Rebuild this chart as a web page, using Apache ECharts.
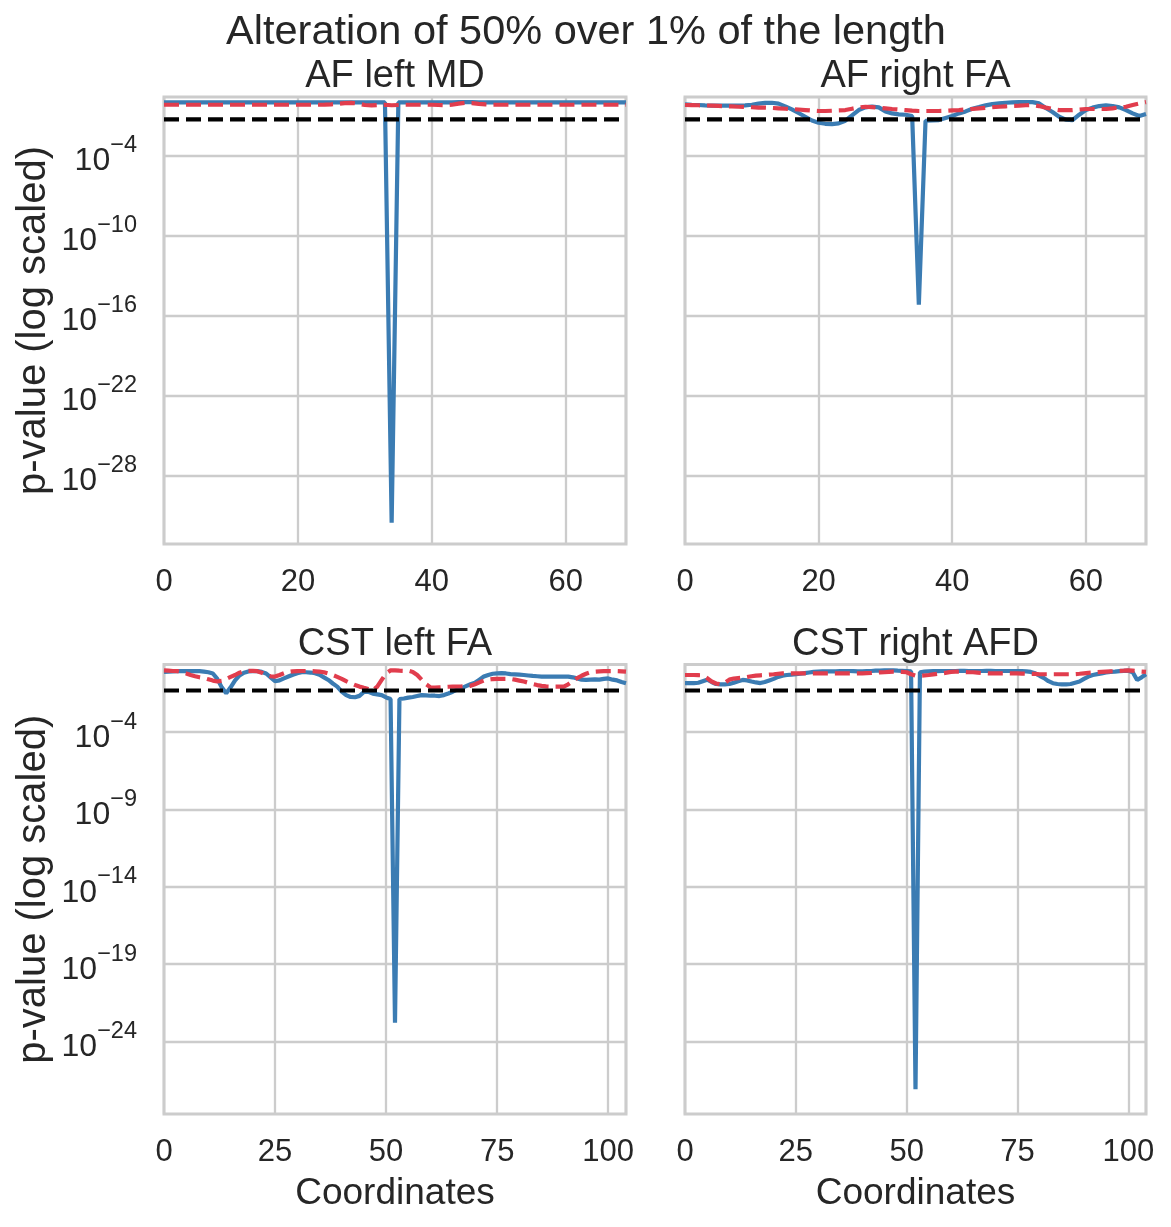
<!DOCTYPE html>
<html>
<head>
<meta charset="utf-8">
<script src="https://cdn.jsdelivr.net/npm/echarts@6/dist/echarts.min.js"></script>
<style>
  html, body { margin: 0; background: #fff; }
  #chart { width: 1171px; height: 1227px; }
</style>
</head>
<body>
<div id="chart"></div>
<script>
// values are log10(p-value)
const pThreshold = 0.05;

const topYTicks = [-4, -10, -16, -22, -28];
const bottomYTicks = [-4, -9, -14, -19, -24];

// AF left MD (70 coordinates)
const afLeftMdAltered = [
  -0.02, -0.02, -0.02, -0.02, -0.02, -0.02, -0.02, -0.02, -0.02, -0.02,
  -0.02, -0.02, -0.02, -0.02, -0.02, -0.02, -0.02, -0.02, -0.02, -0.02,
  -0.02, -0.02, -0.02, -0.02, -0.02, -0.02, -0.02, -0.02, -0.02, -0.02,
  -0.02, -0.03, -0.03, -0.03, -31.55, -0.03, -0.03, -0.03, -0.03, -0.03,
  -0.02, -0.02, -0.02, -0.02, -0.01, -0.01, -0.01, -0.02, -0.02, -0.02,
  -0.02, -0.02, -0.02, -0.02, -0.02, -0.02, -0.02, -0.02, -0.02, -0.02,
  -0.02, -0.02, -0.02, -0.02, -0.02, -0.02, -0.02, -0.02, -0.02, -0.02
];
const afLeftMdControl = [
  -0.2, -0.2, -0.2, -0.2, -0.2, -0.2, -0.2, -0.2, -0.2, -0.2,
  -0.2, -0.2, -0.2, -0.2, -0.2, -0.2, -0.2, -0.2, -0.2, -0.2,
  -0.2, -0.2, -0.2, -0.2, -0.19, -0.17, -0.13, -0.08, -0.06, -0.12,
  -0.22, -0.25, -0.22, -0.2, -0.24, -0.22, -0.2, -0.2, -0.2, -0.2,
  -0.2, -0.22, -0.24, -0.2, -0.12, -0.06, -0.08, -0.14, -0.18, -0.2,
  -0.2, -0.2, -0.2, -0.2, -0.2, -0.2, -0.2, -0.2, -0.2, -0.2,
  -0.2, -0.2, -0.2, -0.2, -0.2, -0.2, -0.2, -0.2, -0.2, -0.2
];

// AF right FA (70 coordinates)
const afRightFaAltered = [
  -0.17, -0.2, -0.22, -0.25, -0.27, -0.27, -0.27, -0.27, -0.27, -0.25,
  -0.2, -0.12, -0.06, -0.05, -0.12, -0.32, -0.55, -0.82, -1.1, -1.38,
  -1.55, -1.63, -1.65, -1.6, -1.4, -1.0, -0.6, -0.4, -0.33, -0.4,
  -0.7, -0.85, -0.92, -0.95, -1.05, -15.2, -1.4, -1.38, -1.35, -1.2,
  -1.05, -0.85, -0.7, -0.5, -0.38, -0.25, -0.15, -0.1, -0.05, -0.02,
  -0.01, 0, 0, -0.1, -0.45, -0.75, -1.1, -1.32, -1.35, -0.95,
  -0.6, -0.42, -0.3, -0.25, -0.3, -0.4, -0.6, -0.85, -1.05, -0.9
];
const afRightFaControl = [
  -0.22, -0.23, -0.24, -0.25, -0.27, -0.29, -0.31, -0.33, -0.35, -0.37,
  -0.39, -0.41, -0.42, -0.44, -0.47, -0.5, -0.52, -0.56, -0.6, -0.64,
  -0.67, -0.67, -0.65, -0.62, -0.6, -0.5, -0.4, -0.35, -0.38, -0.43,
  -0.47, -0.52, -0.56, -0.6, -0.64, -0.67, -0.67, -0.67, -0.67, -0.66,
  -0.63, -0.6, -0.56, -0.52, -0.47, -0.43, -0.39, -0.35, -0.32, -0.29,
  -0.27, -0.24, -0.22, -0.3, -0.42, -0.52, -0.6, -0.6, -0.6, -0.56,
  -0.52, -0.52, -0.52, -0.52, -0.47, -0.4, -0.35, -0.22, -0.1, 0
];

// CST left FA (105 coordinates)
const cstLeftFaAltered = [
  -0.1, -0.08, -0.06, -0.05, -0.05, -0.05, -0.05, -0.05, -0.05, -0.08,
  -0.12, -0.2, -0.55, -1.1, -1.48, -1.1, -0.65, -0.32, -0.15, -0.07,
  -0.05, -0.05, -0.1, -0.2, -0.45, -0.7, -0.65, -0.52, -0.4, -0.28,
  -0.18, -0.12, -0.12, -0.14, -0.18, -0.28, -0.45, -0.62, -0.85, -1.05,
  -1.38, -1.6, -1.72, -1.74, -1.65, -1.4, -1.38, -1.5, -1.55, -1.6,
  -1.75, -1.85, -22.8, -1.85, -1.82, -1.76, -1.72, -1.66, -1.6, -1.62,
  -1.64, -1.64, -1.66, -1.6, -1.5, -1.38, -1.25, -1.15, -1.02, -0.9,
  -0.8, -0.6, -0.4, -0.3, -0.22, -0.19, -0.18, -0.2, -0.24, -0.26,
  -0.28, -0.3, -0.33, -0.36, -0.38, -0.4, -0.4, -0.4, -0.4, -0.4,
  -0.4, -0.4, -0.45, -0.52, -0.6, -0.62, -0.6, -0.58, -0.6, -0.55,
  -0.52, -0.6, -0.65, -0.75, -0.83
];
const cstLeftFaControl = [
  0, -0.02, -0.04, -0.05, -0.12, -0.2, -0.3, -0.38, -0.45, -0.5,
  -0.58, -0.66, -0.72, -0.68, -0.55, -0.42, -0.3, -0.15, -0.05, -0.03,
  -0.03, -0.05, -0.15, -0.3, -0.38, -0.4, -0.3, -0.19, -0.1, -0.06,
  -0.05, -0.04, -0.04, -0.05, -0.06, -0.08, -0.12, -0.2, -0.3, -0.42,
  -0.55, -0.7, -0.83, -0.95, -1.05, -1.13, -1.2, -1.3, -1.05, -0.62,
  -0.19, 0, 0, -0.02, -0.03, -0.02, -0.1, -0.3, -0.6, -0.9,
  -1.1, -1.12, -1.1, -1.08, -1.06, -1.05, -1.05, -1.04, -1.02, -1.0,
  -0.9, -0.78, -0.66, -0.6, -0.56, -0.55, -0.55, -0.55, -0.55, -0.6,
  -0.66, -0.72, -0.8, -0.88, -0.95, -1.0, -1.04, -1.05, -1.05, -1.05,
  -1.05, -0.9, -0.7, -0.5, -0.35, -0.22, -0.12, -0.08, -0.06, -0.05,
  -0.05, -0.05, -0.05, -0.06, -0.08
];

// CST right AFD (105 coordinates)
const cstRightAfdAltered = [
  -0.83, -0.83, -0.83, -0.8, -0.7, -0.6, -0.75, -0.88, -0.9, -0.9,
  -0.88, -0.8, -0.7, -0.62, -0.65, -0.72, -0.78, -0.82, -0.75, -0.65,
  -0.55, -0.42, -0.34, -0.3, -0.28, -0.25, -0.22, -0.18, -0.14, -0.1,
  -0.08, -0.06, -0.06, -0.06, -0.06, -0.04, -0.04, -0.04, -0.05, -0.06,
  -0.06, -0.05, -0.04, -0.02, -0.01, 0, 0, 0, -0.02, -0.03,
  -0.04, -0.06, -27.1, -0.12, -0.08, -0.06, -0.05, -0.05, -0.04, -0.04,
  -0.04, -0.04, -0.03, -0.03, -0.04, -0.04, -0.04, -0.04, -0.03, -0.03,
  -0.04, -0.04, -0.04, -0.04, -0.04, -0.04, -0.05, -0.06, -0.1, -0.19,
  -0.35, -0.5, -0.7, -0.83, -0.88, -0.9, -0.9, -0.88, -0.8, -0.72,
  -0.55, -0.4, -0.3, -0.24, -0.19, -0.14, -0.1, -0.08, -0.05, -0.03,
  -0.02, -0.12, -0.62, -0.45, -0.25
];
const cstRightAfdControl = [
  -0.3, -0.3, -0.3, -0.31, -0.32, -0.5, -0.72, -0.85, -0.9, -0.8,
  -0.6, -0.53, -0.5, -0.47, -0.43, -0.38, -0.34, -0.32, -0.3, -0.27,
  -0.25, -0.22, -0.2, -0.2, -0.19, -0.19, -0.19, -0.19, -0.2, -0.2,
  -0.2, -0.19, -0.19, -0.19, -0.19, -0.19, -0.2, -0.2, -0.2, -0.19,
  -0.19, -0.18, -0.17, -0.15, -0.13, -0.12, -0.1, -0.08, -0.08, -0.1,
  -0.12, -0.25, -0.34, -0.35, -0.33, -0.3, -0.26, -0.22, -0.19, -0.15,
  -0.1, -0.08, -0.08, -0.1, -0.12, -0.12, -0.15, -0.18, -0.19, -0.2,
  -0.2, -0.2, -0.2, -0.2, -0.2, -0.2, -0.21, -0.22, -0.22, -0.23,
  -0.25, -0.25, -0.25, -0.25, -0.25, -0.25, -0.25, -0.25, -0.24, -0.22,
  -0.19, -0.16, -0.14, -0.12, -0.1, -0.08, -0.06, -0.05, -0.03, -0.02,
  0, -0.02, -0.05, -0.08, -0.1
];

const font = '"Liberation Sans", Arial, sans-serif';
const ink = '#262626';
const gridGray = '#cccccc';
const blue = '#3b7cb3';
const red = '#e13d4d';

const panels = [
  { title: 'AF left MD', altered: afLeftMdAltered, control: afLeftMdControl,
    left: 164, top: 97, width: 462, height: 447, xMax: 69, xStep: 20,
    yMin: -33.15, yMax: 0.38, yTicks: topYTicks, yLabels: true, xName: '' },
  { title: 'AF right FA', altered: afRightFaAltered, control: afRightFaControl,
    left: 685, top: 97, width: 461, height: 447, xMax: 69, xStep: 20,
    yMin: -33.15, yMax: 0.38, yTicks: topYTicks, yLabels: false, xName: '' },
  { title: 'CST left FA', altered: cstLeftFaAltered, control: cstLeftFaControl,
    left: 164, top: 664.5, width: 462, height: 449.5, xMax: 104, xStep: 25,
    yMin: -28.7, yMax: 0.38, yTicks: bottomYTicks, yLabels: true, xName: 'Coordinates' },
  { title: 'CST right AFD', altered: cstRightAfdAltered, control: cstRightAfdControl,
    left: 685, top: 664.5, width: 461, height: 449.5, xMax: 104, xStep: 25,
    yMin: -28.7, yMax: 0.38, yTicks: bottomYTicks, yLabels: false, xName: 'Coordinates' }
];

function toPoints(arr) {
  return arr.map((v, i) => [i, v]);
}

const chart = echarts.init(document.getElementById('chart'), null, { renderer: 'canvas' });

const option = {
  backgroundColor: '#ffffff',
  animation: false,
  title: [{
    text: 'Alteration of 50% over 1% of the length',
    left: 586, top: 12, textAlign: 'center', padding: 0,
    textStyle: { fontFamily: font, fontSize: 41.5, fontWeight: 'normal', color: ink }
  }].concat(panels.map(p => ({
    text: p.title,
    left: p.left + p.width / 2, top: p.top - 39, textAlign: 'center', padding: 0,
    textStyle: { fontFamily: font, fontSize: 38, fontWeight: 'normal', color: ink }
  }))),
  grid: panels.map(p => ({
    left: p.left, top: p.top, width: p.width, height: p.height,
    show: true, borderColor: gridGray, borderWidth: 3, backgroundColor: '#ffffff',
    outerBoundsMode: 'none'
  })),
  xAxis: panels.map((p, k) => ({
    type: 'value', gridIndex: k, min: 0, max: p.xMax, interval: p.xStep,
    name: p.xName, nameLocation: 'middle', nameGap: 61,
    nameTextStyle: { fontFamily: font, fontSize: 37, color: ink },
    axisLine: { show: false }, axisTick: { show: false },
    axisLabel: { fontFamily: font, fontSize: 31, color: ink, margin: 23, showMaxLabel: false },
    splitLine: { show: true, lineStyle: { color: gridGray, width: 2.3 } }
  })),
  yAxis: panels.map((p, k) => ({
    type: 'value', gridIndex: k, min: p.yMin, max: p.yMax,
    name: p.yLabels ? 'p-value (log scaled)' : '', nameLocation: 'middle', nameGap: 110,
    nameRotate: 90,
    nameTextStyle: { fontFamily: font, fontSize: 40, color: ink },
    axisLine: { show: false },
    axisTick: { show: false, customValues: p.yTicks },
    axisLabel: {
      show: p.yLabels, customValues: p.yTicks, margin: 27,
      padding: [12, 0, 0, 0],
      formatter: v => '{b|10}{s|\u2212' + Math.abs(v) + '}',
      rich: {
        b: { fontFamily: font, fontSize: 32, color: ink, lineHeight: 32, verticalAlign: 'bottom' },
        s: { fontFamily: font, fontSize: 23.5, color: ink, lineHeight: 23, verticalAlign: 'bottom', padding: [0, 0, 20, 0] }
      }
    },
    splitLine: { show: true, lineStyle: { color: gridGray, width: 2.3 } }
  })),
  series: []
};

panels.forEach((p, k) => {
  option.series.push({
    type: 'line', xAxisIndex: k, yAxisIndex: k, data: toPoints(p.altered),
    showSymbol: false, symbol: 'none', lineStyle: { color: blue, width: 4.2 }, z: 3
  });
  option.series.push({
    type: 'line', xAxisIndex: k, yAxisIndex: k, data: toPoints(p.control),
    showSymbol: false, symbol: 'none',
    lineStyle: { color: red, width: 4.2, type: [15, 7] }, z: 4
  });
  option.series.push({
    type: 'line', xAxisIndex: k, yAxisIndex: k,
    data: [[0, Math.log10(pThreshold)], [p.xMax, Math.log10(pThreshold)]],
    showSymbol: false, symbol: 'none',
    lineStyle: { color: '#000000', width: 4.2, type: [15, 7] }, z: 5
  });
});

chart.setOption(option);
</script>
</body>
</html>
